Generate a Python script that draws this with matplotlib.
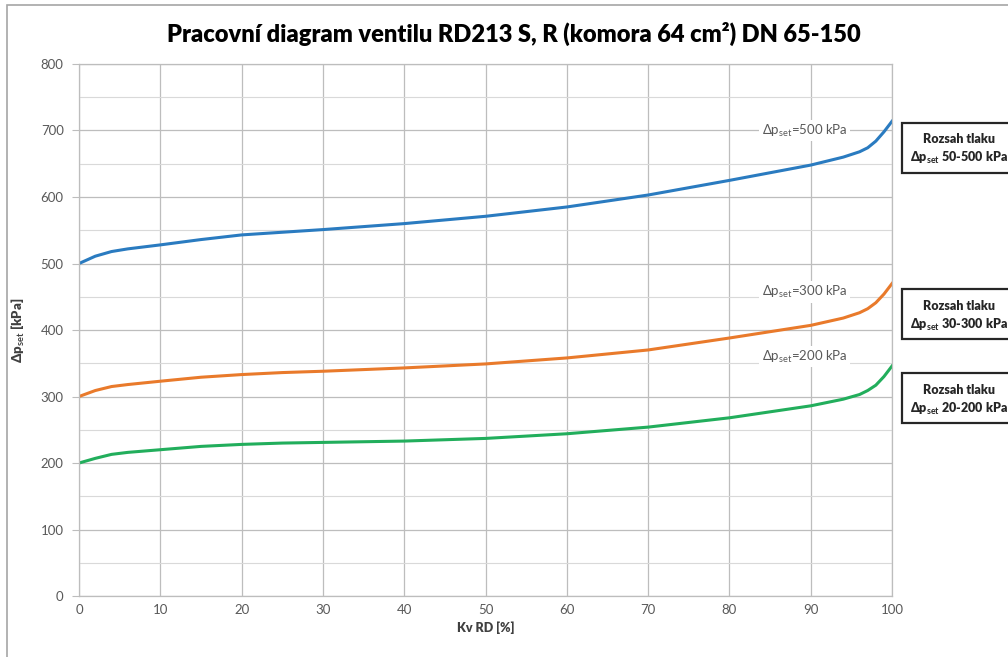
import matplotlib.pyplot as plt
import numpy as np
from matplotlib.patches import Rectangle

plt.rcParams['font.family'] = ['Lato', 'DejaVu Sans']
plt.rcParams['mathtext.fontset'] = 'custom'
plt.rcParams['mathtext.rm'] = 'Lato'
plt.rcParams['mathtext.bf'] = 'Lato:bold'

# Kv RD [%] and the three working curves [kPa]
kv_blue = [0, 2, 4, 6, 10, 15, 20, 25, 30, 40, 50, 60, 70, 80, 90, 94, 96, 97, 98, 99, 100]
dp_500 = [500, 511, 518, 522, 528, 536, 543, 547, 551, 560, 571, 585, 603, 625, 648, 660, 668, 674, 684, 698, 714]

kv_orange = [0, 2, 4, 6, 10, 15, 20, 25, 30, 40, 50, 60, 70, 80, 90, 94, 96, 97, 98, 99, 100]
dp_300 = [300, 309, 315, 318, 323, 329, 333, 336, 338, 343, 349, 358, 370, 388, 407, 418, 426, 432, 441, 454, 470]

kv_green = [0, 2, 4, 6, 10, 15, 20, 25, 30, 40, 50, 60, 70, 80, 90, 94, 96, 97, 98, 99, 100]
dp_200 = [200, 207, 213, 216, 220, 225, 228, 230, 231, 233, 237, 244, 254, 268, 286, 296, 303, 309, 317, 330, 346]

curve_labels = ['500', '300', '200']
range_labels = ['50-500', '30-300', '20-200']

fig = plt.figure(figsize=(10.08, 6.57), dpi=100)
ax = fig.add_axes([0.0784, 0.0928, 0.8066, 0.8098])

blue, orange, green = '#2A7BC0', '#E97A2B', '#22AE5C'
ax.plot(kv_blue, dp_500, color=blue, lw=2.2)
ax.plot(kv_orange, dp_300, color=orange, lw=2.2)
ax.plot(kv_green, dp_200, color=green, lw=2.2)

ax.set_xlim(0, 100)
ax.set_ylim(0, 800)
ax.set_xticks(np.arange(0, 101, 10))
ax.set_yticks(np.arange(0, 801, 100))
ax.set_yticks(np.arange(50, 800, 100), minor=True)
ax.grid(which='major', color='#BDBDBD', lw=0.9)
ax.grid(which='minor', axis='y', color='#D9D9D9', lw=0.8)
ax.tick_params(which='both', length=0, labelsize=9.5, colors='#595959', pad=6)
ax.tick_params(axis='y', which='major', length=5, color='#BDBDBD')
for s in ax.spines.values():
    s.set_color('#BDBDBD')
    s.set_linewidth(0.9)

ax.set_xlabel('Kv RD [%]', fontsize=9, fontweight='heavy', color='#404040', labelpad=4)
ax.set_ylabel(r'Δp$_{\mathbf{set}}$ [kPa]', fontsize=9.5, fontweight='heavy',
              color='#404040', labelpad=10)
fig.suptitle('Pracovní diagram ventilu RD213 S, R (komora 64 cm²) DN 65-150',
             x=0.51, y=0.967, fontsize=17, fontweight='heavy', color='black')

# curve labels
for lab, ypos in zip(curve_labels, [700, 457, 360]):
    ax.text(94.5, ypos, r'Δp$_{\mathrm{set}}$=' + lab + ' kPa', fontsize=9.5,
            color='#595959', ha='right', va='center',
            bbox=dict(facecolor='white', edgecolor='none', pad=2))

# range boxes
for lab, yc in zip(range_labels, [0.775, 0.522, 0.394]):
    fig.add_artist(Rectangle((0.895, yc - 0.038), 0.12, 0.076, transform=fig.transFigure,
                             facecolor='white', edgecolor='#262626', lw=1.6))
    fig.text(0.951, yc + 0.013, 'Rozsah tlaku', fontsize=9, fontweight='heavy',
             ha='center', va='center', color='#262626')
    fig.text(0.951, yc - 0.016, r'Δp$_{\mathbf{set}}$ ' + lab + ' kPa', fontsize=9,
             fontweight='heavy', ha='center', va='center', color='#262626')

# outer chart frame
fig.add_artist(Rectangle((0.007, -0.01), 1.1, 1.002, transform=fig.transFigure,
                         facecolor='none', edgecolor='#A6A6A6', lw=1.2))

fig.savefig('out.png', dpi=100)
